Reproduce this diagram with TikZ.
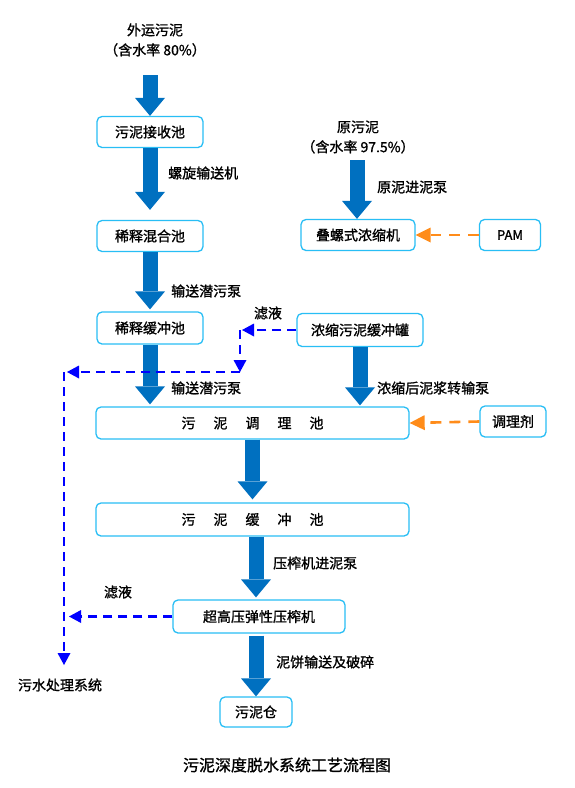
\documentclass[tikz,border=0pt]{standalone}
\usepackage{fontspec}
\setmainfont{Noto Sans CJK SC}[FakeBold=1.2]
\usetikzlibrary{arrows.meta,calc}
\definecolor{boxblue}{RGB}{40,190,245}
\definecolor{arrblue}{RGB}{0,112,192}
\definecolor{dashblue}{RGB}{0,0,255}
\definecolor{dashorange}{RGB}{255,140,26}
\tikzset{
 box/.style={draw=boxblue, line width=1.3pt, rounded corners=5pt, fill=white, minimum height=31pt, inner sep=0pt, font=\fontsize{14}{16}\selectfont},
 lbl/.style={inner sep=0pt, font=\fontsize{14}{16}\selectfont},
 blk/.style={arrblue, line width=15pt, -{Triangle[width=30pt,length=18pt,line width=0pt]}},
 bdash/.style={dashblue, line width=2.6pt, dash pattern=on 9pt off 6pt, -{Triangle[width=13pt,length=12pt,line width=0pt]}},
 odash/.style={dashorange, line width=2.6pt, dash pattern=on 11pt off 8pt, -{Triangle[width=15pt,length=15pt,line width=0pt]}},
}
\begin{document}
\begin{tikzpicture}[x=1pt,y=-1pt]
\useasboundingbox[fill=white] (0,0) rectangle (574,788);
% source texts
\node[lbl, align=center, font=\fontsize{14}{20}\selectfont] (src1) at (155,40) {外运污泥\\（含水率 80\%）};
\node[lbl, align=center, font=\fontsize{14}{20}\selectfont] (src2) at (358,137) {原污泥\\（含水率 97.5\%）};
% boxes
\node[box, minimum width=106pt] (b1) at (150,132) {污泥接收池};
\node[box, minimum width=106pt] (b2) at (150,236) {稀释混合池};
\node[box, minimum width=106pt, minimum height=32pt] (b3) at (150,328) {稀释缓冲池};
\node[box, minimum width=114pt] (c1) at (358,235) {叠螺式浓缩机};
\node[box, minimum width=61pt, font=\fontsize{13}{15}\selectfont] (pam) at (510,235) {PAM};
\node[box, minimum width=126pt, minimum height=33pt] (c2) at (360,330) {浓缩污泥缓冲罐};
\node[box, minimum width=313pt, minimum height=32pt] (d1) at (252.5,423) {污\hspace{18pt}泥\hspace{18pt}调\hspace{18pt}理\hspace{18pt}池};
\node[box, minimum width=66pt] (tl) at (513,421.5) {调理剂};
\node[box, minimum width=313pt, minimum height=33pt] (d2) at (252.5,519.5) {污\hspace{18pt}泥\hspace{18pt}缓\hspace{18pt}冲\hspace{18pt}池};
\node[box, minimum width=172pt, minimum height=33pt] (p) at (259,616.5) {超高压弹性压榨机};
\node[box, minimum width=72pt, minimum height=30pt] (s) at (256,712) {污泥仓};
% labels
\node[lbl, anchor=west] (l1) at (168,173) {螺旋输送机};
\node[lbl, anchor=west] (l2) at (171,291) {输送潜污泵};
\node[lbl, anchor=west] (l3) at (171,388) {输送潜污泵};
\node[lbl, anchor=west] (l4) at (377,187) {原泥进泥泵};
\node[lbl, anchor=west] (l5) at (377,388) {浓缩后泥浆转输泵};
\node[lbl, anchor=west] (l6) at (273,563) {压榨机进泥泵};
\node[lbl, anchor=west] (l7) at (276,662) {泥饼输送及破碎};
\node[lbl] (f1) at (268,313) {滤液};
\node[lbl] (f2) at (118,592) {滤液};
\node[lbl] (ws) at (60,685) {污水处理系统};
\node[lbl, font=\fontsize{16}{18}\selectfont] (cap) at (287,765) {污泥深度脱水系统工艺流程图};
% coordinates
\coordinate (a1s) at (150,75);
\coordinate (a5s) at (357,160);
\coordinate (j1) at (242,330);
\coordinate (j1b) at (240,330);
\coordinate (j2) at (240,372);
\coordinate (j3) at (67,372);
\coordinate (j4) at (64,372);
\coordinate (j5) at (64,665);
\coordinate (j6) at (69,612);
% block arrows
\draw[blk] (a1s) -- (b1.north);
\draw[blk, shorten >=10pt] (b1.south) -- (b2.north);
\draw[blk, shorten >=2pt] (b2.south) -- (b3.north);
\draw[blk, shorten >=2pt] (b3.south) -- (b3.south |- d1.north);
\draw[blk] (a5s) -- (a5s |- c1.north);
\draw[blk, shorten >=1pt] (c2.south) -- (c2.south |- d1.north);
\draw[blk, shorten >=3pt] (d1.south) -- (d2.north);
\draw[blk, shorten >=2pt] (s.north |- d2.south) -- (s.north |- p.north);
\draw[blk, shorten <=2pt] (s.north |- p.south) -- (s.north);
% dashed filtrate lines
\draw[bdash] (c2.west) -- (j1);
\draw[bdash] (j1b) -- (j2);
\draw[bdash] (j2) -- (j3);
\draw[bdash] (j4) -- (j5);
\draw[bdash] (p.west) -- (j6 |- p.west);
% orange agent lines
\draw[odash] (pam.west) -- (c1.east);
\draw[odash] (tl.west) -- (d1.east);
\end{tikzpicture}
\end{document}
